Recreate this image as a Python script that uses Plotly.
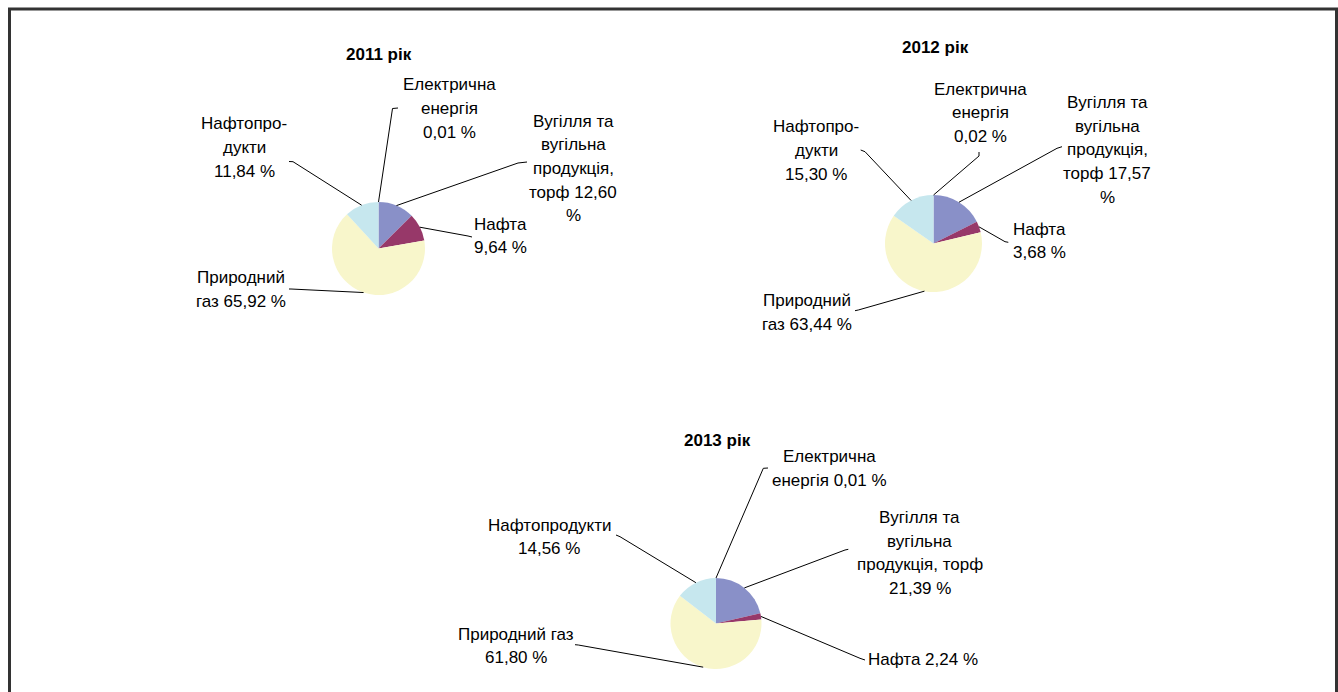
import math
import plotly.graph_objects as go

# ---------------- data ----------------
years = ["2011 рік", "2012 рік", "2013 рік"]
categories = ["Електрична енергія", "Вугілля та вугільна продукція, торф",
              "Нафта", "Природний газ", "Нафтопродукти"]
values_2011 = [0.01, 12.60, 9.64, 65.92, 11.84]
values_2012 = [0.02, 17.57, 3.68, 63.44, 15.30]
values_2013 = [0.01, 21.39, 2.24, 61.80, 14.56]

label_lines_2011 = [["Електрична", "енергія", "{v} %"],
                    ["Вугілля та", "вугільна", "продукція,", "торф {v}", "%"],
                    ["Нафта", "{v} %"],
                    ["Природний", "газ {v} %"],
                    ["Нафтопро-", "дукти", "{v} %"]]
label_lines_2012 = [["Електрична", "енергія", "{v} %"],
                    ["Вугілля та", "вугільна", "продукція,", "торф {v}", "%"],
                    ["Нафта", "{v} %"],
                    ["Природний", "газ {v} %"],
                    ["Нафтопро-", "дукти", "{v} %"]]
label_lines_2013 = [["Електрична", "енергія {v} %"],
                    ["Вугілля та", "вугільна", "продукція, торф", "{v} %"],
                    ["Нафта {v} %"],
                    ["Природний газ", "{v} %"],
                    ["Нафтопродукти", "{v} %"]]

colors = ["#7F86C0", "#8990C8", "#973869", "#F8F6CB", "#C6E7EE"]

# ---------------- layout (pixels) ----------------
W, H = 1338, 692
FONT = "Arial, 'Liberation Sans', sans-serif"
FS = 17
LINE_H = 23.7

pies = [
    dict(values=values_2011, lines=label_lines_2011, cx=378.5, cy=248.5, r=46.5,
         title=(379, 60.5),
         labels=[(449, 90.5), (573, 127), (500, 230), (240.5, 283.3), (244, 129.5)],
         ends=[((392.5, 108.5), (398, 108)), ((518, 163), (527, 162)),
               ((468, 236), (472, 237)), ((291, 289), (289, 289)),
               ((293, 161.7), (289, 161.5))]),
    dict(values=values_2012, lines=label_lines_2012, cx=933.5, cy=243.5, r=48.5,
         title=(935, 53.3),
         labels=[(980, 95), (1107, 108.3), (1039.5, 235), (807, 306.5), (816, 132.7)],
         ends=[((979, 156), (979, 152)), ((1057, 148.3), (1062, 146.7)),
               ((1005, 241.7), (1008.3, 242.3)), ((858.3, 310), (855, 310.7)),
               ((865, 151.7), (860.7, 150))]),
    dict(values=values_2013, lines=label_lines_2013, cx=716, cy=623.5, r=45.5,
         title=(717, 446.7),
         labels=[(829.5, 462.7), (920, 523.3), (922.5, 665), (516, 640), (549, 531)],
         ends=[((763.3, 468.3), (768, 468)), ((845, 550), (848.3, 549.3)),
               ((860, 658.3), (865, 660)), ((578.3, 645), (575, 644.7)),
               ((620, 536.7), (616, 535))]),
]


def px(x):
    return x / W


def py(y):
    return 1 - y / H


def fmt(v):
    return f"{v:.2f}".replace(".", ",")


fig = go.Figure()
annotations = []
shapes = []

for year, p in zip(years, pies):
    cx, cy, r = p["cx"], p["cy"], p["r"]
    fig.add_trace(go.Pie(
        labels=categories, values=p["values"], sort=False, direction="clockwise",
        rotation=0, textinfo="none", hoverinfo="label+percent",
        marker=dict(colors=colors, line=dict(width=0)),
        domain=dict(x=[px(cx - r), px(cx + r)], y=[py(cy + r), py(cy - r)]),
        showlegend=False,
    ))
    # title
    tx, tb = p["title"]
    annotations.append(dict(x=px(tx), y=py(tb - 0.347 * FS), xref="paper", yref="paper",
                            text=f"<b>{year}</b>", showarrow=False, xanchor="center",
                            yanchor="middle", font=dict(family=FONT, size=FS, color="black")))
    total = sum(p["values"])
    cum = 0.0
    for i, v in enumerate(p["values"]):
        mid = (cum + v / 2) / total
        cum += v
        ang = 2 * math.pi * mid
        sx, sy = cx + r * math.sin(ang), cy - r * math.cos(ang)
        (ex, ey), (kx, ky) = p["ends"][i]
        shapes.append(dict(type="path", xref="paper", yref="paper",
                           path=f"M {px(sx)} {py(sy)} L {px(ex)} {py(ey)} L {px(kx)} {py(ky)}",
                           line=dict(color="black", width=1)))
        lx, lb = p["labels"][i]
        for j, line in enumerate(p["lines"][i]):
            b = lb + j * LINE_H
            annotations.append(dict(x=px(lx), y=py(b - 0.347 * FS), xref="paper", yref="paper",
                                    text=line.replace("{v}", fmt(v)), showarrow=False,
                                    xanchor="center", yanchor="middle",
                                    font=dict(family=FONT, size=FS, color="black")))

# outer frame
shapes.append(dict(type="rect", xref="paper", yref="paper",
                   x0=px(9.5), x1=px(1336.5), y0=py(720), y1=py(9),
                   line=dict(color="#333333", width=3)))

fig.update_layout(width=W, height=H, margin=dict(l=0, r=0, t=0, b=0),
                  paper_bgcolor="white", plot_bgcolor="white",
                  annotations=annotations, shapes=shapes)

fig.write_html("out.html", config={"displayModeBar": False},
               post_script="document.body.style.margin='0';document.body.style.overflow='hidden';")
